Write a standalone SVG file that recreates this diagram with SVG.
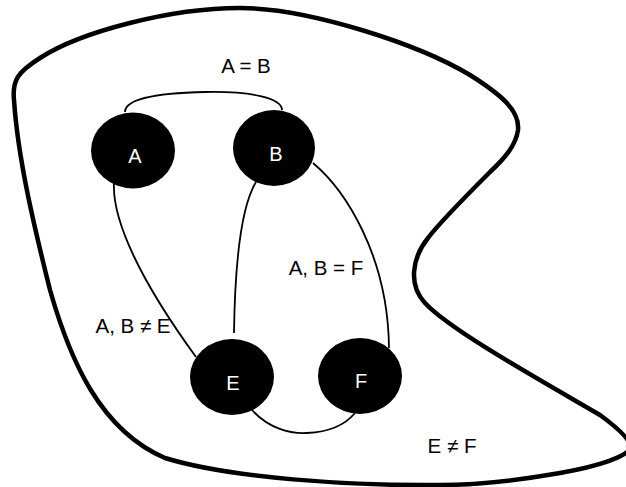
<svg xmlns="http://www.w3.org/2000/svg" width="626" height="487" viewBox="0 0 626 487">
<style>
.outline{fill:none;stroke:#000;stroke-width:4.5;stroke-linejoin:round}
.edge{fill:none;stroke:#000;stroke-width:1.8}
.node{fill:#000}
.nlabel{font-family:"Liberation Sans",Arial,sans-serif;font-size:20px;fill:#fff;text-anchor:middle}
.label{font-family:"Liberation Sans",Arial,sans-serif;font-size:20.5px;fill:#000;text-anchor:middle}
</style>
<rect width="626" height="487" fill="#fff"/>
<path class="outline" d="M14,100 C12,80 18,72 40,58 C80,32 170,8 240,8 C310,8 420,45 470,75 C500,94 520,110 518,130 C516,145 505,158 490,172 C465,197 440,222 428,238 C412,258 408,285 425,303 C450,330 540,380 600,415 C615,426 632,440 630,448 C628,456 600,466 560,473 C520,480 480,485 440,485 C350,486 230,478 165,458 C100,430 70,360 50,290 C35,230 18,160 14,100 Z"/>
<g id="connectors">
<path class="edge" d="M125,112 C125,98 160,93 205,92 C250,91 282,98 282,110"/>
<path class="edge" d="M114,183 C112,220 140,280 196,357"/>
<path class="edge" d="M256,182 C242,205 235,260 234,333"/>
<path class="edge" d="M313,163 C345,190 388,255 389,348"/>
<path class="edge" d="M252,410 C268,428 290,434 307,433 C330,432 345,425 355,413"/>
</g>
<g id="node-A"><ellipse class="node" cx="133" cy="150.5" rx="42" ry="38"/><text class="nlabel" x="135" y="163">A</text></g>
<g id="node-B"><ellipse class="node" cx="274" cy="148" rx="41" ry="38"/><text class="nlabel" x="276" y="161">B</text></g>
<g id="node-E"><ellipse class="node" cx="232" cy="377" rx="42" ry="38"/><text class="nlabel" x="233" y="390">E</text></g>
<g id="node-F"><ellipse class="node" cx="360" cy="376" rx="42" ry="38"/><text class="nlabel" x="361" y="388">F</text></g>
<g id="labels">
<text class="label" x="246" y="73">A = B</text>
<text class="label" x="326" y="275">A, B = F</text>
<text class="label" x="133" y="333">A, B ≠ E</text>
<text class="label" x="452" y="453">E ≠ F</text>
</g>
</svg>
